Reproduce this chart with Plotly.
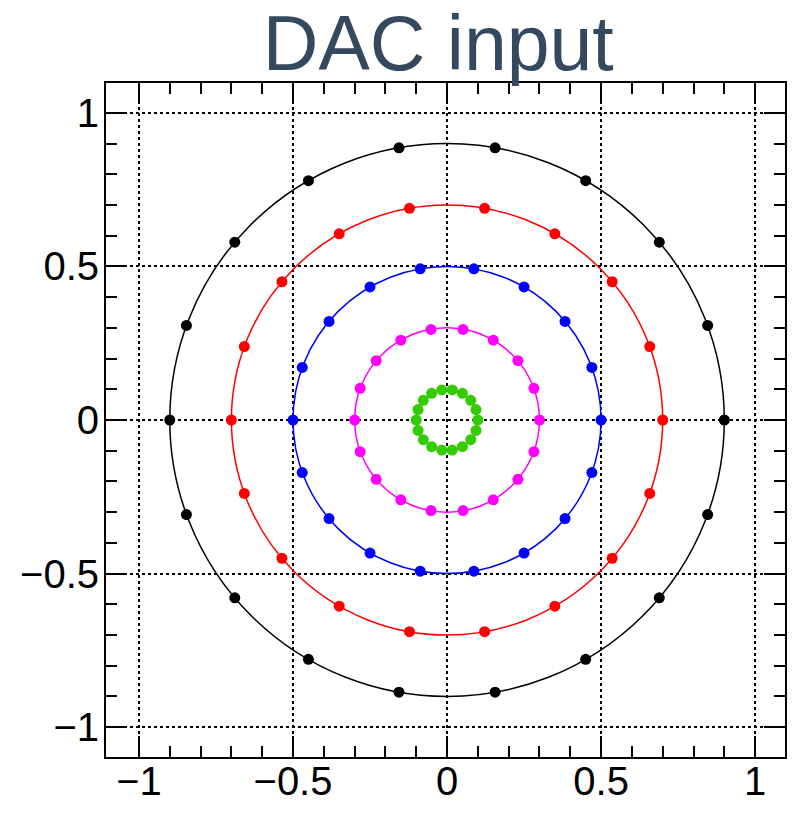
import plotly.graph_objects as go

# Radii of the rings
radii = [0.9, 0.7, 0.5, 0.3, 0.1]
colors = ["#000000", "#ff0000", "#0000ff", "#ff00ff", "#33cc00"]

# Points at 20 degree steps, read per ring
x_black = [0.9, 0.846, 0.689, 0.45, 0.156, -0.156, -0.45, -0.689, -0.846, -0.9, -0.846, -0.689, -0.45, -0.156, 0.156, 0.45, 0.689, 0.846]
y_black = [0.0, 0.308, 0.579, 0.779, 0.886, 0.886, 0.779, 0.579, 0.308, 0.0, -0.308, -0.579, -0.779, -0.886, -0.886, -0.779, -0.579, -0.308]

x_red = [0.7, 0.658, 0.536, 0.35, 0.122, -0.122, -0.35, -0.536, -0.658, -0.7, -0.658, -0.536, -0.35, -0.122, 0.122, 0.35, 0.536, 0.658]
y_red = [0.0, 0.239, 0.45, 0.606, 0.689, 0.689, 0.606, 0.45, 0.239, 0.0, -0.239, -0.45, -0.606, -0.689, -0.689, -0.606, -0.45, -0.239]

x_blue = [0.5, 0.47, 0.383, 0.25, 0.087, -0.087, -0.25, -0.383, -0.47, -0.5, -0.47, -0.383, -0.25, -0.087, 0.087, 0.25, 0.383, 0.47]
y_blue = [0.0, 0.171, 0.321, 0.433, 0.492, 0.492, 0.433, 0.321, 0.171, 0.0, -0.171, -0.321, -0.433, -0.492, -0.492, -0.433, -0.321, -0.171]

x_magenta = [0.3, 0.282, 0.23, 0.15, 0.052, -0.052, -0.15, -0.23, -0.282, -0.3, -0.282, -0.23, -0.15, -0.052, 0.052, 0.15, 0.23, 0.282]
y_magenta = [0.0, 0.103, 0.193, 0.26, 0.295, 0.295, 0.26, 0.193, 0.103, 0.0, -0.103, -0.193, -0.26, -0.295, -0.295, -0.26, -0.193, -0.103]

x_green = [0.1, 0.094, 0.077, 0.05, 0.017, -0.017, -0.05, -0.077, -0.094, -0.1, -0.094, -0.077, -0.05, -0.017, 0.017, 0.05, 0.077, 0.094]
y_green = [0.0, 0.034, 0.064, 0.087, 0.098, 0.098, 0.087, 0.064, 0.034, 0.0, -0.034, -0.064, -0.087, -0.098, -0.098, -0.087, -0.064, -0.034]

tick_vals = [-1, -0.5, 0, 0.5, 1]
tick_text = ["\u22121", "\u22120.5", "0", "0.5", "1"]
minor_vals = [-1.0, -0.9, -0.8, -0.7, -0.6, -0.5, -0.4, -0.3, -0.2, -0.1, 0.0,
              0.1, 0.2, 0.3, 0.4, 0.5, 0.6, 0.7, 0.8, 0.9, 1.0]

series = [
    (x_black, y_black),
    (x_red, y_red),
    (x_blue, y_blue),
    (x_magenta, y_magenta),
    (x_green, y_green),
]

fig = go.Figure()
for (xs, ys), c in zip(series, colors):
    fig.add_trace(go.Scatter(x=xs, y=ys, mode="markers",
                             marker=dict(color=c, size=11, line=dict(width=0)),
                             showlegend=False, hoverinfo="skip"))

for r, c in zip(radii, colors):
    fig.add_shape(type="circle", xref="x", yref="y", x0=-r, y0=-r, x1=r, y1=r,
                  line=dict(color=c, width=1.5), layer="between")

axis_common = dict(
    tickmode="array", tickvals=tick_vals, ticktext=tick_text,
    ticks="inside", ticklen=21, tickwidth=2, tickcolor="black",
    showline=True, linecolor="black", linewidth=2, mirror="allticks",
    showgrid=True, gridcolor="black", gridwidth=1.5, griddash="dot",
    zeroline=False, automargin=False,
    tickfont=dict(family="Liberation Sans, Arial, sans-serif", size=40, color="black"),
    minor=dict(tickmode="array", tickvals=minor_vals, ticks="inside", ticklen=11,
               tickwidth=2, tickcolor="black", showgrid=False),
)

fig.update_xaxes(range=[-1.107, 1.097], ticklabelstandoff=-12, **axis_common)
fig.update_yaxes(range=[-1.097, 1.097], ticklabelstandoff=-3, **axis_common)

fig.update_layout(
    width=794, height=813,
    margin=dict(l=106, r=9, t=83, b=56),
    paper_bgcolor="white", plot_bgcolor="white",
    title=dict(text="DAC input", x=0.552, xanchor="center", xref="container",
               y=0.947, yanchor="middle", yref="container",
               font=dict(family="Liberation Sans, Arial, sans-serif", size=77, color="#34495e")),
)

fig.write_html("out.html")
